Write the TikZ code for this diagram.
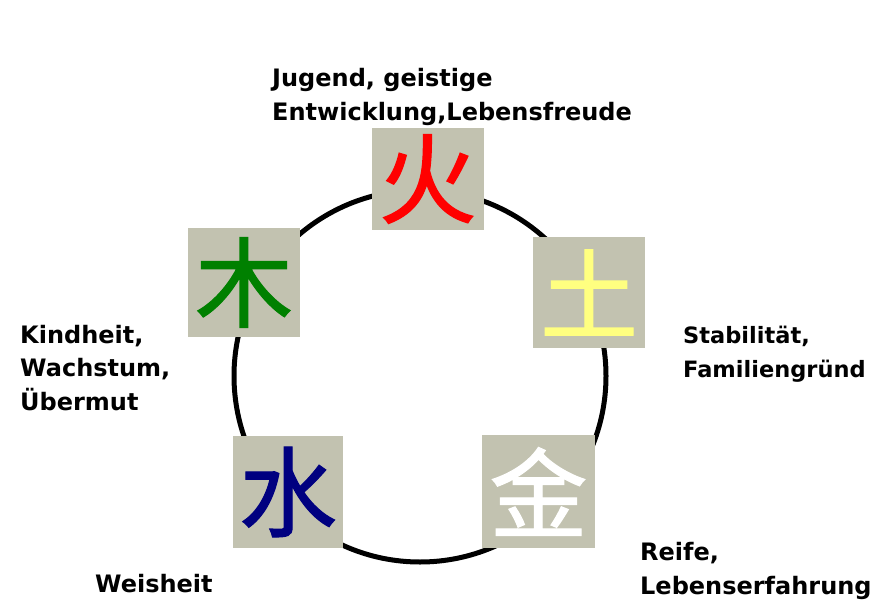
\documentclass[tikz,border=0pt]{standalone}
\usepackage{fontspec}
\setmainfont{DejaVu Sans}
\newfontfamily\cjk[FakeBold=1.2]{Noto Sans CJK SC}
\definecolor{boxbg}{RGB}{194,194,176}
\definecolor{woodgreen}{RGB}{0,128,0}
\definecolor{earthyellow}{RGB}{255,255,128}
\definecolor{waterblue}{RGB}{0,0,128}
\begin{document}
\begin{tikzpicture}[x=1pt,y=-1pt,
  elem/.style={fill=boxbg, minimum width=112pt, minimum height=110pt, inner sep=0pt,
    font=\cjk\fontsize{98}{98}\selectfont},
  lbl/.style={anchor=base west, align=left, inner sep=0pt,
    font=\bfseries\fontsize{24}{33.5}\selectfont}]
\useasboundingbox (0,0) rectangle (873,605);
\node[draw=black, line width=5pt, circle, minimum size=372pt, inner sep=0pt] (ring) at (420,376) {};
\node[elem, minimum height=102pt, text=red] (fire) at (427.5,179) {火};
\node[elem, minimum height=109pt, text=woodgreen] (wood) at (244,282.5) {木};
\node[elem, minimum height=111pt, text=earthyellow] (earth) at (589,292.5) {土};
\node[elem, minimum width=110pt, minimum height=112pt, text=waterblue] (water) at (288,492) {水};
\node[elem, minimum width=113pt, minimum height=113pt, text=white] (metal) at (538.5,491.5) {金};
\node[lbl] (tfire) at (272,120) {Jugend, geistige\\Entwicklung,Lebensfreude};
\node[lbl] (twood) at (20,410) {Kindheit,\\Wachstum,\\Übermut};
\node[lbl, font=\bfseries\fontsize{22.5}{34}\selectfont] (tearth) at (683,377) {Stabilität,\\Familiengründ};
\node[lbl] (tmetal) at (640,594) {Reife,\\Lebenserfahrung};
\node[lbl] (twater) at (95,592) {Weisheit};
\end{tikzpicture}
\end{document}
